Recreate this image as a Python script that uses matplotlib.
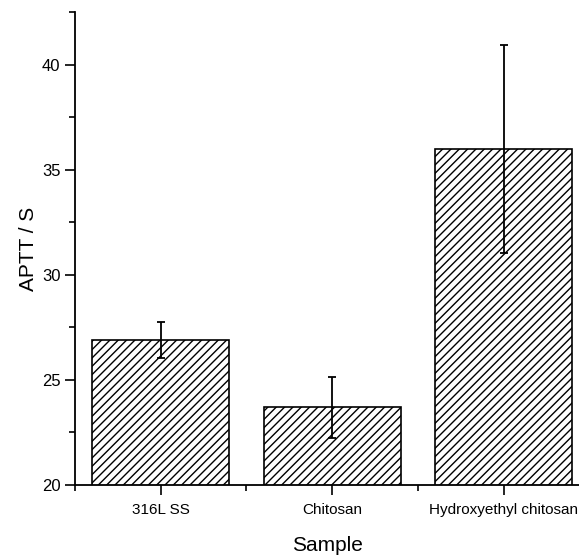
import matplotlib.pyplot as plt
from matplotlib.ticker import MultipleLocator, FixedLocator

samples = ["316L SS", "Chitosan", "Hydroxyethyl chitosan"]
aptt = [26.9, 23.7, 36.0]
aptt_err = [0.85, 1.45, 4.95]

plt.rcParams["font.family"] = ["Liberation Sans", "DejaVu Sans"]
plt.rcParams["hatch.linewidth"] = 1.0

fig = plt.figure(figsize=(5.79, 5.56), dpi=100)
ax = fig.add_axes([0.1295, 0.1277, 0.8705, 0.8503])

pos = list(range(1, len(samples) + 1))
ax.bar(pos, aptt, width=0.8, color="white", edgecolor="black", linewidth=1.2, hatch="////", zorder=2)
ax.errorbar(pos, aptt, yerr=aptt_err, fmt="none", ecolor="black", elinewidth=1.3, capsize=3, capthick=1.3, zorder=3)

ax.set_xlim(0.5, 3.44)
ax.set_ylim(20, 42.5)
ax.set_xticks(pos)
ax.set_xticklabels(samples)
ax.xaxis.set_minor_locator(FixedLocator([0.5, 1.5, 2.5]))
ax.yaxis.set_major_locator(MultipleLocator(5))
ax.yaxis.set_minor_locator(MultipleLocator(2.5))

for s in ["top", "right"]:
    ax.spines[s].set_visible(False)
for s in ["left", "bottom"]:
    ax.spines[s].set_linewidth(1.3)

ax.tick_params(which="major", direction="out", length=7, width=1.2)
ax.tick_params(axis="x", which="major", pad=6, labelsize=11)
ax.tick_params(axis="y", which="major", labelsize=12)
ax.tick_params(which="minor", direction="out", length=4, width=1.2)

ax.set_ylabel("APTT / S", fontsize=15, labelpad=3)
ax.set_xlabel("Sample", fontsize=15, labelpad=14)

plt.savefig("out.png", dpi=100)
